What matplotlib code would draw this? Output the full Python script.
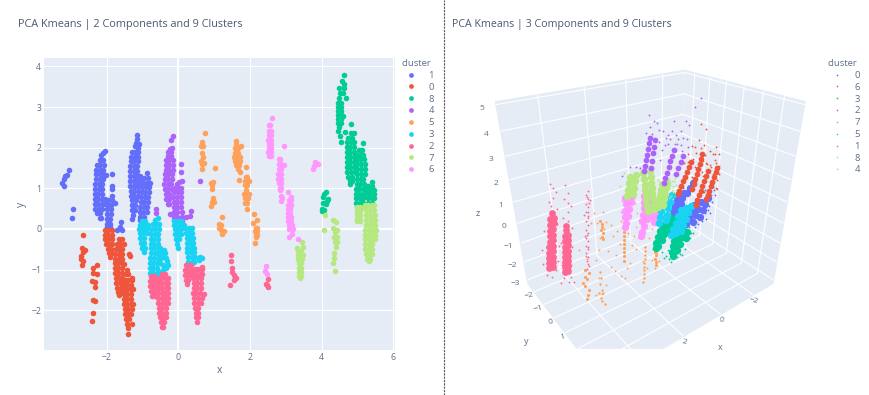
import matplotlib
matplotlib.use('Agg')
import matplotlib.pyplot as plt
from matplotlib.lines import Line2D
from matplotlib.patches import Rectangle
import numpy as np

plt.rcParams['font.family'] = ['Open Sans', 'DejaVu Sans']
W, H = 870, 395

text_color = '#5d6f8a'
title_color = '#4a5a73'
pane_color = '#E5ECF6'

# plotly default colours, in order of appearance
blue, red, green, purple = '#636EFA', '#EF553B', '#00CC96', '#AB63FA'
orange, cyan, pink, lime, magenta = '#FFA15A', '#19D3F3', '#FF6692', '#B6E880', '#FF97FF'

# ---- 2 components: (x, y) ----
pts2_1 = [(-3.25,1.13),(-3.2,1.05),(-3.18,1.22),(-3.15,1.3),(-3.1,1.33),(-3.05,1.45),(-2.95,.48),(-2.97,.26),
    (-2.05,1.93),(-2.1,1.87),(-2.16,1.82),(-2.2,1.7),(-2.1,1.7),(-2.28,1.58),(-2.18,1.58),(-2.08,1.58),
    (-2.3,1.46),(-2.2,1.46),(-2.1,1.46),(-2.3,1.34),(-2.2,1.34),(-2.1,1.34),(-2.02,1.33),(-2.3,1.22),(-2.2,1.22),(-2.1,1.22),
    (-2.32,1.1),(-2.22,1.1),(-2.12,1.1),(-2.32,.98),(-2.22,.98),(-2.12,.98),(-2.33,.86),(-2.23,.86),(-2.13,.86),
    (-2.33,.74),(-2.23,.74),(-2.13,.74),(-2.05,.74),(-2.33,.62),(-2.23,.62),(-2.13,.62),(-2.05,.62),
    (-2.32,.5),(-2.22,.5),(-2.12,.5),(-2.28,.38),(-2.18,.38),(-2.2,.26),(-2.17,.26),
    (-1.85,1.35),(-1.86,1.05),(-1.86,.98),(-1.86,.82),
    (-1.95,.7),(-1.85,.7),(-1.97,.6),(-1.87,.6),(-1.78,.65),(-1.98,.48),(-1.88,.48),(-1.98,.36),(-1.88,.36),
    (-2,.24),(-1.9,.24),(-2,.12),(-1.9,.12),(-2,.04),(-1.9,.04),(-1.61,.18),(-1.63,.05),(-1.7,-.02),(-1.58,-.02),
    (-1.14,2.32),(-1.15,2.22),(-1.17,2.12),(-1.1,2.1),(-1.2,2.03),(-1.13,2),(-1.3,1.9),(-1.2,1.9),(-1.12,1.9),
    (-1.32,1.78),(-1.22,1.78),(-1.12,1.78),(-1.33,1.66),(-1.23,1.66),(-1.13,1.66),(-1.34,1.54),(-1.24,1.54),(-1.14,1.54),
    (-1.35,1.42),(-1.25,1.42),(-1.15,1.42),(-1.35,1.3),(-1.25,1.3),(-1.15,1.3),(-1.07,1.3),(-1.35,1.18),(-1.25,1.18),(-1.15,1.18),(-1.07,1.18),
    (-1.35,1.06),(-1.25,1.06),(-1.15,1.06),(-1.07,1.06),(-1.33,.94),(-1.23,.94),(-1.13,.94),(-1.33,.82),(-1.23,.82),(-1.13,.82),
    (-1.28,.7),(-1.18,.7),(-1.3,.58),(-1.2,.58),(-1.28,.46),(-1.2,.46),(-1.26,.34),(-1.28,.25),
    (-.88,1.38),(-.95,1.26),(-.85,1.26),(-.98,1.14),(-.88,1.14),(-.8,1.14),(-1,1.02),(-.9,1.02),(-.82,1.02),
    (-1.02,.9),(-.92,.9),(-.83,.9),(-1.04,.78),(-.94,.78),(-.84,.78),(-1.05,.66),(-.95,.66),(-.85,.66),
    (-1.07,.54),(-.97,.54),(-.87,.54),(-1.08,.42),(-.98,.42),(-.88,.42),(-1.07,.3),(-.97,.3),(-1.08,.22)]
pts2_0 = [(-2.67,-.16),(-2.68,-.46),(-2.61,-.52),(-2.65,-.56),(-2.72,-.66),(-2.71,-.75),(-2.66,-.8),(-2.69,-.89),(-2.39,-.95),(-2.27,-.9),
    (-2.37,-1.09),(-2.28,-1.11),(-2.42,-1.28),(-2.34,-1.3),(-2.34,-1.42),(-2.39,-1.75),(-2.33,-1.77),(-2.37,-2.06),(-2.41,-2.27),
    (-2.05,-.02),(-1.95,-.02),(-1.85,-.02),(-2.05,-.14),(-1.95,-.14),(-1.85,-.14),(-2.05,-.26),(-1.95,-.26),(-1.85,-.26),
    (-2.03,-.38),(-1.93,-.38),(-1.84,-.38),(-1.97,-.5),(-1.87,-.5),(-1.93,-.6),(-1.85,-.6),(-1.92,-.68),
    (-1.65,-.25),(-1.58,-.25),(-1.72,-.37),(-1.62,-.37),(-1.52,-.38),(-1.75,-.49),(-1.65,-.49),(-1.58,-.49),
    (-1.76,-.61),(-1.66,-.61),(-1.58,-.61),(-1.76,-.73),(-1.66,-.73),(-1.58,-.73),(-1.77,-.85),(-1.67,-.85),(-1.58,-.85),
    (-1.77,-.97),(-1.67,-.97),(-1.58,-.97),(-1.77,-1.09),(-1.67,-1.09),(-1.58,-1.09),(-1.75,-1.21),(-1.65,-1.21),(-1.56,-1.21),
    (-1.73,-1.33),(-1.63,-1.33),(-1.55,-1.33),(-1.7,-1.45),(-1.6,-1.45),(-1.68,-1.55),(-1.58,-1.55),(-1.65,-1.62),
    (-1.37,-.62),(-1.36,-.66),(-1.53,-.87),(-1.43,-1),(-1.45,-1.12),(-1.4,-1.12),(-1.28,-1.2),(-1.48,-1.25),(-1.4,-1.25),(-1.3,-1.25),
    (-1.5,-1.37),(-1.42,-1.37),(-1.33,-1.37),(-1.5,-1.49),(-1.42,-1.49),(-1.32,-1.49),(-1.27,-1.49),(-1.52,-1.61),(-1.42,-1.61),(-1.32,-1.61),
    (-1.52,-1.73),(-1.42,-1.73),(-1.32,-1.73),(-1.53,-1.85),(-1.43,-1.85),(-1.33,-1.85),(-1.27,-1.85),(-1.5,-1.97),(-1.4,-1.97),(-1.3,-1.97),
    (-1.48,-2.09),(-1.4,-2.09),(-1.33,-2.09),(-1.46,-2.21),(-1.38,-2.21),(-1.42,-2.33),(-1.3,-2.35),(-1.4,-2.43),(-1.41,-2.58)]
pts2_8 = [(4.64,3.79),(4.56,3.65),(4.64,3.56),(4.5,3.48),(4.64,3.48),(4.59,3.34),(4.52,3.34),(4.49,3.22),(4.67,3.22),
    (4.47,3.1),(4.55,3.1),(4.45,3),(4.53,3),(4.45,2.9),(4.53,2.9),(4.46,2.8),(4.54,2.8),(4.6,2.77),(4.47,2.7),(4.55,2.7),(4.47,2.6),(4.54,2.6),
    (4.48,2.5),(4.45,2.42),(4.52,2.29),(4.53,2.13),(4.65,2.38),(4.83,2.58),
    (4.82,2.35),(4.9,2.36),(4.75,2.25),(4.85,2.25),(4.72,2.13),(4.82,2.13),(4.9,2.13),(4.7,2.01),(4.8,2.01),(4.9,2.01),(4.7,1.89),(4.8,1.89),(4.9,1.89),
    (4.7,1.77),(4.8,1.77),(4.9,1.77),(4.7,1.65),(4.8,1.65),(4.9,1.65),(4.7,1.53),(4.8,1.53),(4.9,1.53),(4.72,1.41),(4.82,1.41),(4.92,1.41),
    (4.75,1.29),(4.85,1.29),(4.78,1.17),(4.86,1.17),(4.8,1.1),
    (5.15,2.11),(5.05,1.95),(5.12,1.95),(5,1.83),(5.1,1.83),(5.17,1.83),(4.98,1.71),(5.08,1.71),(5.18,1.71),(5,1.59),(5.1,1.59),(5.2,1.59),
    (5,1.47),(5.1,1.47),(5.2,1.47),(5,1.35),(5.1,1.35),(5.2,1.35),(5,1.23),(5.1,1.23),(5.17,1.23),(4.98,1.11),(5.08,1.11),(5.18,1.11),
    (4.95,.99),(5.05,.99),(5.15,.99),(5.25,.99),(4.95,.87),(5.05,.87),(5.15,.87),(5.25,.87),(4.97,.75),(5.07,.75),(5.17,.75),(4.97,.63),(5.07,.63),(5.17,.63),(5,.55),(5.1,.55),
    (5.41,1.15),(5.3,1.05),(5.4,1.05),(5.28,.95),(5.38,.95),(5.47,.95),(5.28,.85),(5.38,.85),(5.47,.85),(5.3,.75),(5.4,.75),(5.47,.75),(5.3,.65),(5.4,.65),
    (4.12,.92),(4.08,.85),(4.17,.74),(4.05,.78),(4.03,.63),(4.12,.61),(4.15,.68),(4.02,.48),(4,.43),(4.07,.47)]
pts2_4 = [(-.15,2.29),(-.2,2.19),(-.18,2),(-.23,1.96),(.08,1.61),(.07,1.39),(.1,1.19),(.61,1.18),
    (-.28,1.9),(-.2,1.9),(-.3,1.8),(-.2,1.8),(-.35,1.7),(-.25,1.7),(-.15,1.7),(-.35,1.58),(-.25,1.58),(-.15,1.58),(-.35,1.46),(-.25,1.46),(-.15,1.46),
    (-.38,1.34),(-.28,1.34),(-.18,1.34),(-.38,1.22),(-.28,1.22),(-.18,1.22),(-.39,1.1),(-.29,1.1),(-.2,1.1),(-.38,.98),(-.28,.98),(-.18,.98),
    (-.35,.86),(-.25,.86),(-.33,.74),(-.25,.74),(-.3,.62),(-.25,.62),(-.24,.36),(-.63,.49),(-.63,.4),
    (-.05,1.1),(.03,1.15),(-.1,1),(0,1),(.07,1),(-.12,.9),(-.02,.9),(.07,.9),(-.14,.78),(-.04,.78),(.08,.78),(-.13,.66),(-.03,.66),(.07,.66),
    (-.13,.54),(-.03,.54),(.07,.54),(-.13,.42),(-.03,.42),(.09,.42),(-.13,.3),(-.03,.3),(.1,.3),(-.13,.22),(-.03,.22),(.1,.2),(.36,.43),(.33,.31),(.21,.3)]
pts2_5 = [(.74,2.35),(.65,2.15),(.7,2.05),(.63,2.04),(.65,1.86),(.69,1.78),(.62,1.66),(.73,1.63),(.67,1.61),(.65,1.48),(1.03,1.51),
    (.91,1.13),(.98,1.15),(.93,1.08),(.95,.98),(.96,.77),(.93,.66),(.99,.66),(.9,.56),
    (1.22,.3),(1.15,.11),(1.2,.1),(1.15,.03),(1.18,-.02),(1.28,-.05),(1.23,-.12),
    (1.61,2.17),(1.61,2.08),(1.76,2.04),(1.58,1.99),(1.66,1.99),(1.58,1.87),(1.66,1.87),(1.55,1.77),(1.63,1.77),(1.71,1.77),(1.57,1.67),(1.65,1.67),(1.72,1.67),
    (1.62,1.57),(1.7,1.57),(1.89,1.52),(1.66,1.48),(1.72,1.41),(1.7,1.2),(1.88,1.27),(1.93,1.27),(1.85,1.17),(1.92,1.17),(1.98,1.17),(1.87,1.07),(1.93,1.07),
    (1.88,.97),(1.84,.87),(1.92,.87),(1.98,.87),(1.85,.75),(1.95,.75),(1.87,.65),(1.93,.65),(1.92,.5),
    (2.12,.37),(2.2,.21),(2.09,.15),(2.16,.02),(2.2,.02),(2.15,-.06),(2.2,-.06),(2.16,-.14),(2.2,-.14),(2.17,-.2),(2.15,-.35)]
pts2_3 = [(-1,.2),(-.92,.2),(-1.07,.1),(-.97,.1),(-.85,.1),(-1.1,0),(-1,0),(-.9,0),(-1.08,-.1),(-.98,-.1),(-.88,-.1),(-1.06,-.22),(-.97,-.22),
    (-1.03,-.34),(-.95,-.34),(-1,-.46),(-.93,-.46),(-.97,-.58),(-.57,.28),(-.65,.22),(-.72,.12),(-.62,.12),(-.55,.12),(-.75,0),(-.65,0),(-.55,0),
    (-.76,-.12),(-.66,-.12),(-.56,-.12),(-.77,-.24),(-.67,-.24),(-.57,-.24),(-.77,-.36),(-.67,-.36),(-.57,-.36),(-.77,-.48),(-.67,-.48),(-.57,-.48),(-.5,-.48),
    (-.76,-.6),(-.66,-.6),(-.56,-.6),(-.48,-.6),(-.78,-.72),(-.68,-.72),(-.58,-.72),(-.5,-.72),(-.8,-.84),(-.7,-.84),(-.6,-.84),(-.8,-.96),(-.7,-.96),(-.6,-.96),
    (-.8,-1.08),(-.7,-1.08),(-.6,-1.08),(-.5,-1.08),(-.75,-1.15),(-.65,-1.15),
    (-.39,-.52),(-.37,-.6),(-.39,-.68),(-.33,-.72),(-.31,-.8),(-.47,-.72),(-.51,-.85),(-.42,-.89),(-.28,-.89),(-.42,-1.01),(-.51,-1.05),(-.33,-.97),
    (-.12,.2),(-.02,.2),(.07,.2),(-.13,.1),(-.03,.1),(.08,.1),(.15,.1),(-.1,0),(0,0),(.08,0),(-.08,-.12),(0,-.12),(.07,-.12),(-.06,-.24),(.02,-.24),(-.03,-.36),(-.02,-.46),
    (.2,.02),(.3,.02),(.38,.02),(.22,-.1),(.3,-.1),(.38,-.1),(.23,-.22),(.32,-.22),(.42,-.22),(.23,-.34),(.33,-.34),(.42,-.34),(.25,-.46),(.35,-.46),(.43,-.46),
    (.25,-.58),(.35,-.58),(.45,-.58),(.27,-.7),(.37,-.7),(.47,-.7),(.27,-.82),(.37,-.82),(.43,-.82),(.28,-.9),(.36,-.9),(.61,-.68),(.65,-.72),(.59,-.76)]
pts2_2 = [(-.76,-1.17),(-.68,-1.17),(-.78,-1.29),(-.7,-1.29),(-.63,-1.29),(-.78,-1.41),(-.7,-1.41),(-.62,-1.41),(-.76,-1.53),(-.68,-1.53),(-.62,-1.53),(-.73,-1.65),(-.65,-1.65),
    (-.45,-1.12),(-.37,-1.1),(-.55,-1.22),(-.47,-1.22),(-.38,-1.22),(-.3,-1.22),(-.55,-1.34),(-.45,-1.34),(-.35,-1.34),(-.29,-1.34),(-.55,-1.46),(-.45,-1.46),(-.35,-1.46),(-.29,-1.46),
    (-.56,-1.58),(-.46,-1.58),(-.36,-1.58),(-.28,-1.58),(-.56,-1.7),(-.46,-1.7),(-.36,-1.7),(-.28,-1.7),(-.56,-1.82),(-.46,-1.82),(-.36,-1.82),(-.28,-1.82),
    (-.55,-1.94),(-.45,-1.94),(-.35,-1.94),(-.55,-2.06),(-.45,-2.06),(-.35,-2.06),(-.52,-2.18),(-.42,-2.18),(-.33,-2.18),(-.48,-2.3),(-.4,-2.3),(-.46,-2.42),(-.42,-2.42),
    (.22,-.9),(.3,-.9),(.36,-.9),(.2,-1.02),(.28,-1.02),(.36,-1.02),(.2,-1.14),(.28,-1.14),(.34,-1.14),(.22,-1.26),(.28,-1.26),(.25,-1.36),
    (.65,-.93),(.47,-.98),(.55,-.98),(.65,-.98),(.42,-1.1),(.5,-1.1),(.6,-1.1),(.65,-1.1),(.42,-1.22),(.52,-1.22),(.62,-1.22),(.43,-1.34),(.53,-1.34),(.63,-1.34),
    (.43,-1.46),(.53,-1.46),(.63,-1.46),(.4,-1.58),(.5,-1.58),(.6,-1.58),(.72,-1.6),(.45,-1.7),(.55,-1.7),(.65,-1.7),(.45,-1.82),(.55,-1.82),(.62,-1.82),
    (.47,-1.94),(.55,-1.94),(.48,-2.06),(.55,-2.06),(.5,-2.18),(.55,-2.18),(.52,-2.3),
    (1.46,-.63),(1.47,-.8),(1.51,-.95),(1.51,-1.07),(1.56,-1.13),(1.61,-1.2),(1.55,-1.26),(1.45,-1.38),(2.5,-1.24),(2.46,-1.35),(2.48,-1.38),(2.5,-1.44)]
pts2_7 = [(4.1,.34),(4.07,-.02),(4.33,.21),(4.4,.18),(4.31,.02),(4.38,-.07),(4.44,-.02),(4.36,-.19),(4.44,-.19),(4.38,-.31),(4.44,-.31),(4.4,-.44),(4.36,-.6),(4.35,-.72),(4.33,-.83),(4.38,-1.03),
    (3.45,-.31),(3.49,-.44),(3.32,-.46),(3.34,-.55),(3.42,-.55),(3.33,-.65),(3.41,-.65),(3.47,-.65),(3.33,-.75),(3.41,-.75),(3.46,-.75),(3.36,-.85),(3.43,-.85),(3.38,-.95),(3.43,-.95),(3.38,-1.05),(3.43,-1.05),(3.38,-1.15),(3.42,-1.15),(3.4,-1.2),
    (5,.55),(5.08,.55),(5.18,.55),(5,.45),(5.08,.45),(5,.35),(5.08,.35),(5,.25),(5.08,.25),(5,.19),(5.08,.19),
    (5.2,.58),(5.3,.58),(5.4,.58),(5.47,.58),(5.25,.46),(5.35,.46),(5.45,.46),(5.25,.34),(5.35,.34),(5.45,.34),(5.5,.34),(5.24,.22),(5.34,.22),(5.44,.22),(5.5,.22),
    (5.24,.1),(5.34,.1),(5.44,.1),(5.5,.1),(5.22,-.02),(5.32,-.02),(5.42,-.02),(5.52,-.02),(5.22,-.14),(5.32,-.14),(5.42,-.14),(5.5,-.14),(5.22,-.26),(5.32,-.26),(5.42,-.26),(5.5,-.26),
    (5.22,-.38),(5.32,-.38),(5.42,-.38),(5.22,-.5),(5.32,-.5),(5.42,-.5),(5.25,-.62),(5.35,-.62),(5.42,-.62),(5.28,-.74),(5.36,-.74),(5.32,-.8)]
pts2_6 = [(2.61,2.74),(2.52,2.55),(2.56,2.55),(2.53,2.4),(2.6,2.4),(2.52,2.3),(2.6,2.3),(2.5,2.2),(2.58,2.2),(2.52,2.1),(2.6,2.1),(2.52,2),(2.58,2),(2.5,1.9),(2.58,1.9),(2.52,1.8),(2.58,1.8),(2.95,2.03),
    (2.8,1.72),(2.85,1.72),(2.8,1.6),(2.86,1.6),(2.95,1.57),(2.8,1.48),(2.87,1.48),(2.78,1.36),(2.86,1.36),(2.78,1.24),(2.87,1.24),(2.8,1.12),(2.88,1.12),(2.83,1),(2.88,1),(2.84,.95),(2.86,.8),(2.9,.76),(2.87,.69),
    (3.07,.92),(3.14,.79),(3.1,.7),(3.15,.7),(3.07,.6),(3.14,.6),(3.05,.5),(3.13,.5),(3.05,.4),(3.13,.4),(3.05,.3),(3.15,.3),(3.07,.2),(3.15,.2),(3.1,.1),(3.18,.1),(3.1,0),(3.2,0),(3.18,-.12),(3.1,-.2),(3.33,-.26),
    (3.82,1.64),(3.89,1.61),(3.8,1.55),(3.77,1.47),(2.45,-.92),(2.43,-1.03),(2.48,-1.12)]

clusters_2d = ['1', '0', '8', '4', '5', '3', '2', '7', '6']
points_2d = [pts2_1, pts2_0, pts2_8, pts2_4, pts2_5, pts2_3, pts2_2, pts2_7, pts2_6]
colors_2d = [blue, red, green, purple, orange, cyan, pink, lime, magenta]

# ---- 3 components: (x, z) with y held per cluster, core = thick part of a strand ----
red_core = [(-1.5,1.85),(-1.4,1.65),(-1.3,1.45),(-1.2,1.25),(-1.1,1.05),(-1,.85),(-.9,.65),(-.83,.5),
    (-2.17,2.1),(-2.1,1.87),(-2.03,1.64),(-1.96,1.4),(-1.9,1.17),(-1.82,.94),(-1.75,.7),(-1.67,.47),
    (-2.6,1.11),(-2.5,.9),(-2.4,.68),(-2.3,.46),(-2.2,.24),(-2.1,.02),(-2,-.2),(-1.94,-.41),
    (-3.17,1.15),(-3.09,.93),(-3,.71),(-2.92,.49),(-2.84,.27),(-2.76,.05),(-2.68,-.15),(-2.6,-.35)]
red_sparse = [(-1.9,2.8),(-2.2,2.5),(-1.3,2.3),(-1.1,1.9),(-2.6,2.1),(-2.8,1.9),(-3,1.6),(-3.2,1.8),(-3.3,1.2),(-3.25,.5),(-2.9,.9),(-2.4,1.6),(-1.8,2.2),(-2,3.5),(-2.3,3.2),(-3,2.2),(-3.3,0),(-1.6,2),(-2.9,.3),(-2.2,1.2),(-2.7,1.4),(-3.1,1.4),(-1.5,2.6),
    (-1.7,2.5),(-2.05,2.4),(-2.35,2),(-2.5,1.5),(-2.75,1.3),(-2.95,1.9),(-3.15,1.1),(-3.3,.8),(-1.35,1.9),(-2.2,1.75),(-1.6,1.1),(-1.55,.55),(-2.45,.1),(-3.2,.1),(-2.3,.95),(-1.75,1.55)]
blue_core = [(-1.2,.45),(-.9,.45),(-1.1,.2),(-.8,.2),(-1,-.05),(-.7,-.05),(-.85,-.25),(-.55,-.25),(-.7,-.4),(-1.7,.8),(-1.5,.6),(-1.35,.4),
    (-2.25,-.4),(-1.85,-.4),(-2.1,-.7),(-1.7,-.7),(-1.95,-1),(-1.55,-1),(-1.8,-1.3),(-1.4,-1.3),(-2.7,-.3),(-2.55,-.6),(-2.45,-.9),(-2.25,-1.2)]
blue_sparse = [(-2.8,-.8),(-2.7,-1.5),(-3,-.6),(-2.4,-1.5),(-2,-1.7),(-3.1,0),(-2.5,.2),(-1.9,-.9),(-2.9,-1.2),(-1.1,.7),(-3.2,-.3),(-2.8,-1),(-2.6,-1.1),(-2.2,-1.6),(-3,.2),(-2.9,-.2)]
cyan_core = [(-.48,.55),(-.08,.55),(-.4,.25),(0,.25),(-.3,-.05),(.1,-.05),(-.2,-.35),(.2,-.35),(-.15,-.6),(.25,-.6),
    (-1.63,-.38),(-1.33,-.38),(-1.03,-.38),(-1.5,-.68),(-1.2,-.68),(-.9,-.68),(-1.35,-.98),(-1.05,-.98),(-.75,-.98),(-1.2,-1.28),(-.9,-1.28),(-.6,-1.28),(-1.08,-1.55),(-.78,-1.55),(-.48,-1.55)]
green_core = [(-.28,-.77),(.08,-.77),(-.18,-1.05),(.18,-1.05),(-.08,-1.33),(.28,-1.33),(.04,-1.6),(.4,-1.6),(.25,-1.88),(.4,-1.88),
    (-.87,-.5),(-.57,-.5),(-.75,-.75),(-.45,-.75),(-.6,-1),(-.3,-1),(-.33,-1.24),
    (-1.3,-1.66),(-1.05,-1.66),(-.8,-1.66),(-1.2,-1.95),(-.95,-1.95),(-.7,-1.95),(-1.05,-2.25),(-.85,-2.25),(-.65,-2.25),(-.9,-2.55),(-.75,-2.55),(-.6,-2.55),(-.67,-2.83),(-1.5,-1.75),(-1.45,-2.1)]
green_sparse = [(-1.7,-2.2),(-1.9,-2),(-1.4,-2.7),(-1.2,-3),(-.4,-2.9),(-.1,-2.7),(0,-2.3),(-.3,-2.3),(-1.6,-1.5),(-2,-1.4),(.5,-1.6),(.55,-1.9),(-.9,-3),(-.55,-3.1),(-1.1,-2.9),(-.2,-2.6),(-1.75,-1.9)]
lime_core = [(1.41,2.07),(1.71,2.07),(1.45,1.8),(1.75,1.8),(1.51,1.5),(1.81,1.5),(1.57,1.25),(1.87,1.25),
    (.72,2.03),(1.06,2.03),(.69,1.75),(1.03,1.75),(.66,1.5),(1,1.5),(.63,1.25),(.97,1.25),(.6,1),(.94,1),(.57,.75),(.91,.75),(.53,.45),(.87,.45),(.5,.2),(.84,.2),
    (-.2,1.25),(.08,1.25),(-.14,1),(.14,1),(-.09,.75),(.19,.75),(-.04,.5),(.24,.5),(.03,.21),(.31,.21)]
lime_sparse = [(-.6,1.2),(-.5,1),(-.45,.8),(-.7,1),(-.35,1.1),(-.55,.7),(-.8,.85),(-.25,.9),(-.4,.55),(-.65,.6),(2,2.3),(2.2,1.8),(-.3,1.4),(-.6,1.35),(1.2,2.3),(.3,1.5),(-.75,.7),(-.45,1.25)]
magenta_core = [(1.65,1.2),(1.95,1.2),(1.7,.9),(1.95,.9),(1.78,.6),(2,.6),(1.85,.3),(2,.3),(1.95,0),(2,-.15),
    (.7,1),(1.05,1),(.72,.7),(1.05,.7),(.75,.4),(1.05,.4),(.8,.1),(1.08,.1),(.9,-.2),(1.13,-.2),(1.05,-.5),(1.15,-.75),(1.22,-.93),
    (.25,.4),(.5,.4),(.25,.1),(.5,.1),(.3,-.2),(.5,-.2),(.35,-.5),(.5,-.5)]
magenta_sparse = [(2.2,.6),(2.1,1.1),(1.4,.3),(1.3,-.1),(.05,-.3),(1.5,.8),(1.45,-.4),(.6,-.8)]
purple_core = [(.72,3.45),(.77,3.25),(.82,3.03),(.87,2.8),(.91,2.57),(.96,2.33),(1,2.1),
    (-.5,2.65),(-.42,2.42),(-.33,2.2),(-.25,1.96),(-.16,1.73),(-.08,1.5),(0,1.27),
    (-1.05,2.24),(-.93,2),(-.8,1.75),(-.67,1.5),(.45,3.3),(.5,3.05),(.56,2.8),(.62,2.45),(.67,2.15)]
purple_sparse = [(.7,3.9),(.55,4.1),(.3,3.7),(.1,3.6),(-.2,3.4),(-.4,3.5),(-.7,3.1),(-1,3.1),(-1.3,3.6),(-1.6,4.3),(-1.9,4.6),(.9,3.7),(.75,4.4),(.4,4),(-.1,3.3),(-.9,2.8),(-1.1,3.8),(-.5,3.9),
    (1.4,2.4),(1.2,2.3),(1.7,2.5),(.1,2.8),(-.2,3),(-.7,2.9),(-1.3,2.6),(2.1,2.2),(-.3,3.2),(-.6,3.3),(-.05,3),(.25,3.2),(-.85,3.4),(-1.2,3),(.2,2.4),(-.95,2.5),(.6,3.6),(-.55,2.9)]
pink_core = [(5.14,-1.5),(4.98,-1.5),(4.95,-1.25),(5.11,-1.25),(5.08,-1),(4.92,-1),(4.88,-.75),(5.04,-.75),(5,-.5),(4.84,-.5),(4.8,-.25),(4.96,-.25),(4.93,0),(4.77,0),(4.74,.25),(4.9,.25),(4.86,.5),(4.7,.5),(4.67,.75),(4.83,.75),(4.72,1),
    (4.47,-2),(4.33,-2),(4.3,-1.75),(4.45,-1.75),(4.42,-1.5),(4.28,-1.5),(4.25,-1.25),(4.4,-1.25),(4.37,-1),(4.23,-1),(4.2,-.75),(4.35,-.75),(4.32,-.5),(4.18,-.5),(4.15,-.25),(4.3,-.25),(4.2,0),(4.18,.2)]
pink_sparse = [(4.7,1.3),(4.6,1.6),(4.55,2),(4.75,1.5),(4.45,1.8),(4.65,2.2),(4.5,1.1),(4.9,.6),(4.55,.4),(5.15,.3),(5.3,-.5),(4.6,-.6),(5.35,-1.2),(4.7,-1.3),(5.25,-1.8),(5.05,-2),(4.85,-1.7),
    (4.1,.4),(4.05,.8),(4,1.2),(3.95,1.6),(4.05,2),(4.15,1.4),(3.9,1),(4.3,.6),(3.95,0),(4.5,-.5),(4.05,-.9),(4.55,-1.6),(4.15,-1.8),(4.55,-2.3),(4.35,-2.6),(4.25,-2.4),(4.7,-2.5),(4.1,-2.7),
    (3.42,-2.3),(3.36,-2.1),(3.42,-1.9),(3.34,-1.7),(3.4,-1.5),(3.32,-1.3),(3.38,-1.1),(3.28,-.9),(3.36,-.7),(3.26,-.5),(3.34,-.3),(3.22,-.1),(3.3,.1),(3.18,.3),(3.26,.5),(3.14,.7),(3.22,.9),(3.12,1.1),(3.2,1.3),(3.1,1.45),(3.05,1),(3.36,.4),(3.4,-.6),
    (3.32,-2.2),(3.44,-1.6),(3.28,-1.2),(3.32,-.6),(3.2,.2),(3.16,.5),(3.08,.9),(3.16,1.2)]
orange_core = [(3.12,.4),(3.1,.25),(3.14,.1),(3.1,-.05),(3.13,-.2),(3.1,-.35),(3.18,.55),
    (2.05,-.2),(2.06,-.4),(2.08,-.6),(2.08,-.8),(2.1,-1),(2.12,-1.2),(2.12,-1.4),(2.14,-1.6),(2.15,-1.85),
    (.4,-1.9),(.42,-2.1),(.38,-2.3),(.42,-2.5),(.4,-2.7),(.38,-2.9),
    (4,-1.5),(4.05,-1.8),(3.95,-2),(4.1,-2.3),(3.9,-2.6),(4,-2.8),(4.15,-2.1),(3.85,-1.7),(4.05,-3)]
orange_sparse = [(3.6,.6),(3.4,1),(3,.9),(2.7,.2),(2.6,-.4),(3.3,-.8),(3.5,-1.2),(2.9,-1),(2.5,-1.4),(2.3,-.9),(2.2,.2),(1.9,-.5),(1.7,-1.2),(1.5,-1.5),(1.3,-.7),(1,-1.6),(.8,-1.2),(.5,-1.8),(.3,-2.2),(.6,-2.5),(.2,-2.7),(.45,-3),
    (2,-2.3),(2.3,-2.6),(1.8,-2.1),(2.6,-2.2),(3.1,-2.7),(2.8,-1.9),(3.4,-2.2),(3.6,-3),(3.3,-3.1),(3.9,-1),(4.2,-.4),(2.9,.4),(3.3,.5),(2.4,-.2),(1.6,-.8),(1.1,-2.3),(.9,-2.8),(2.1,-2.8),(3,.1),(3.25,-.2)]
orange_far_x = [3.7,3.7,3.75,3.7,3.65,3.75,3.7,3.6,3.85,1.5,1.52,1.5,1.52,1.54,1.55,1.55,1.57,1.58,1.6]
orange_far_z = [-1.3,-1.6,-1.9,-2.2,-2.4,-2.6,-2.8,-3,-2.3,-1,-1.2,-1.4,-1.6,-1.8,-2,-2.2,-2.4,-2.6,-2.8]

# back to front: (colour, core, sparse, y, core size)
layers_3d = [(orange, orange_core, orange_sparse, 0.0, 5), (pink, pink_core, pink_sparse, -1.0, 24),
             (green, green_core, green_sparse, 0.0, 28), (blue, blue_core, blue_sparse, 0.0, 28),
             (magenta, magenta_core, magenta_sparse, 0.0, 28), (cyan, cyan_core, [], 0.0, 28),
             (lime, lime_core, lime_sparse, 0.0, 28), (purple, purple_core, purple_sparse, 0.0, 17),
             (red, red_core, red_sparse, 0.0, 17)]
clusters_3d = ['0', '6', '3', '2', '7', '5', '1', '8', '4']
colors_3d = [blue, red, green, purple, orange, cyan, pink, lime, magenta]

xticks_2d = [-2, 0, 2, 4, 6]
yticks_2d = [-2, -1, 0, 1, 2, 3, 4]

fig = plt.figure(figsize=(8.7, 3.95), dpi=100)

# left panel
ax = fig.add_axes([44/W, 1-350/H, 351/W, 291.7/H], facecolor=pane_color)
for pts, col in zip(points_2d, colors_2d):
    arr = np.array(pts)
    ax.scatter(arr[:, 0], arr[:, 1], s=16, color=col, linewidths=0, zorder=3)
ax.set_xlim(-3.75, 6.05)
ax.set_ylim(-2.98, 4.2)
ax.set_xticks(xticks_2d)
ax.set_yticks(yticks_2d)
ax.grid(color='white', lw=0.8, zorder=1)
ax.axhline(0, color='white', lw=1.6, zorder=2)
ax.axvline(0, color='white', lw=1.6, zorder=2)
ax.set_axisbelow(True)
for s in ax.spines.values():
    s.set_visible(False)
ax.tick_params(length=0, labelsize=6.3, colors=text_color, pad=2)
ax.set_xlabel('x', fontsize=7.5, color=text_color, labelpad=2)
ax.set_ylabel('y', fontsize=7.5, color=text_color, labelpad=3)

# right panel
ax3 = fig.add_axes([425/W, -0.028, 440/W, 1], projection='3d', computed_zorder=False)
ax3.set_proj_type('persp', focal_length=0.2)
ax3.view_init(elev=29, azim=53.4)
ax3.set_xlim(-3.3, 5.6); ax3.set_ylim(-2.7, 3.9); ax3.set_zlim(-3.2, 5.1)
ax3.set_box_aspect((8.9, 6.6, 8.3), zoom=0.84)
ax3.patch.set_alpha(0)
for a in (ax3.xaxis, ax3.yaxis, ax3.zaxis):
    a.set_pane_color(pane_color)
    a.pane.set_edgecolor(pane_color)
    a.line.set_color((1, 1, 1, 0))
    a._axinfo['grid']['color'] = 'white'
    a._axinfo['grid']['linewidth'] = 0.8
    a._axinfo['tick']['inward_factor'] = 0
    a._axinfo['tick']['outward_factor'] = 0
ax3.set_xticks([-2, 0, 2, 4]); ax3.set_yticks([-2, -1, 0, 1, 2, 3]); ax3.set_zticks(range(-3, 6))
ax3.tick_params(axis='x', labelsize=6, colors=text_color, pad=-7, labelrotation=-15)
ax3.tick_params(axis='y', labelsize=6, colors=text_color, pad=-8, labelrotation=10)
ax3.tick_params(axis='z', labelsize=6, colors=text_color, pad=-1, labelrotation=0)
for t in ax3.get_yticklabels():
    t.set_ha('right')
for col, core, sparse, y0, size in layers_3d:
    c = np.array(core)
    ax3.scatter(c[:, 0], np.full(len(c), y0), c[:, 1], s=size, color=col, linewidths=0, depthshade=False)
    if sparse:
        p = np.array(sparse)
        ax3.scatter(p[:, 0], np.full(len(p), y0), p[:, 1], s=1.8, color=col, linewidths=0, depthshade=False)
ax3.scatter(orange_far_x, np.full(len(orange_far_x), 0.7), orange_far_z, s=3, color=orange, linewidths=0, depthshade=False)

# the 3d scene runs off the bottom of its frame
fig.add_artist(Rectangle((425/W, 0), 445/W, 1-349/H, transform=fig.transFigure, color='white', lw=0, zorder=5))
fig.text(720/W, 1-347/H, 'x', fontsize=6.5, color=text_color, ha='center', va='center', zorder=6)
fig.text(526/W, 1-342/H, 'y', fontsize=6.5, color=text_color, ha='center', va='center', zorder=6)
fig.text(478/W, 1-214/H, 'z', fontsize=6.5, color=text_color, ha='center', va='center', zorder=6)

# titles and divider
fig.text(18/W, 1-25/H, 'PCA Kmeans | 2 Components and 9 Clusters', fontsize=7.8, color=title_color, va='center')
fig.text(452/W, 1-24.5/H, 'PCA Kmeans | 3 Components and 9 Clusters', fontsize=7.65, color=title_color, va='center')
fig.add_artist(Line2D([443.5/W, 443.5/W], [0, 1], color='#555555', lw=0.8, ls=(0, (2, 1)), zorder=6))

# legends
def add_legend(labels, colors, x0, y0, ms):
    handles = [Line2D([], [], marker='o', ls='', color=c, ms=ms, mew=0) for c in colors]
    leg = fig.legend(handles, labels, title='cluster', loc='upper left', bbox_to_anchor=(x0/W, 1-y0/H),
                     frameon=False, fontsize=6.8, title_fontsize=6.8, labelspacing=0.3, handletextpad=0.8,
                     borderpad=0, borderaxespad=0, alignment='left', labelcolor=text_color)
    leg.get_title().set_color(text_color)
    leg.set_zorder(7)

add_legend(clusters_2d, colors_2d, 402, 59, 3.4)
add_legend(clusters_3d, colors_3d, 828, 59, 1.2)

fig.savefig('out.png', dpi=100)
